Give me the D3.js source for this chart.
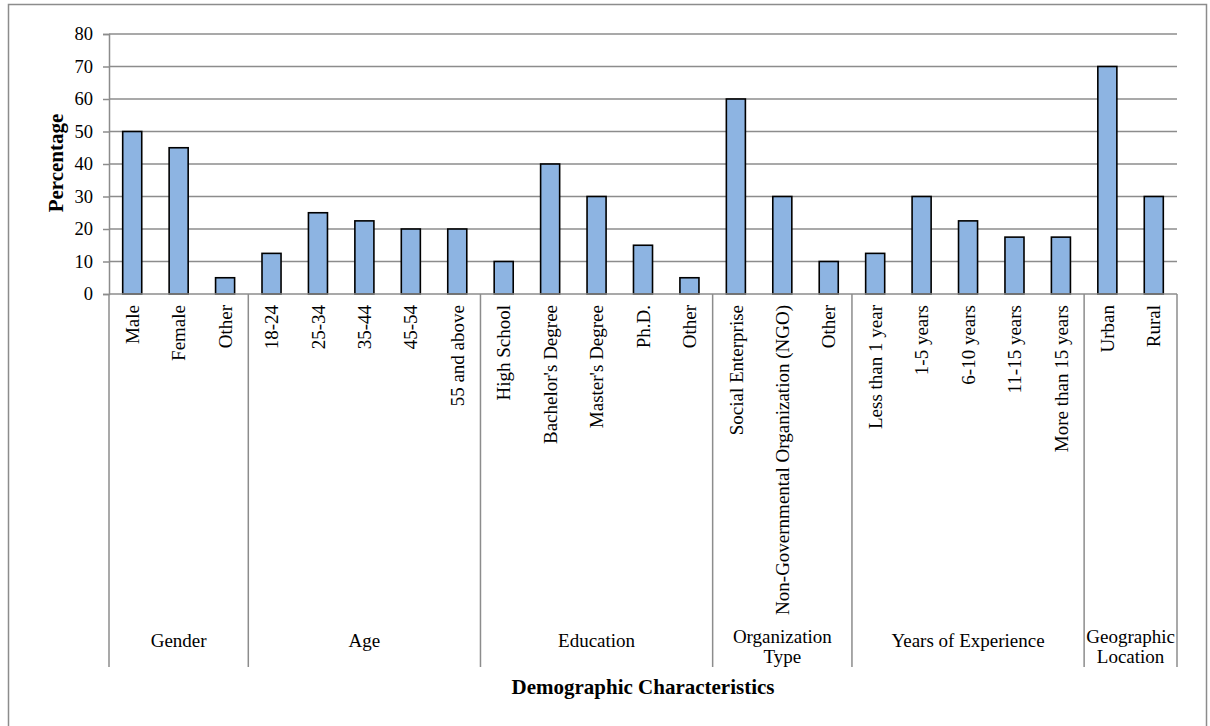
<!DOCTYPE html>
<html>
<head>
<meta charset="utf-8">
<script src="https://cdn.jsdelivr.net/npm/d3@7"></script>
<style>
  html, body { margin: 0; padding: 0; background: #fff; }
  svg { display: block; }
</style>
</head>
<body>
<svg id="chart" width="1210" height="726"></svg>
<script>
// Demographic groups and their categories
const groups = ["Gender", "Age", "Education", "Organization Type", "Years of Experience", "Geographic Location"];
const groupLines = [["Gender"], ["Age"], ["Education"], ["Organization", "Type"], ["Years of Experience"], ["Geographic", "Location"]];
const categories = [
  "Male", "Female", "Other",
  "18-24", "25-34", "35-44", "45-54", "55 and above",
  "High School", "Bachelor's Degree", "Master's Degree", "Ph.D.", "Other",
  "Social Enterprise", "Non-Governmental Organization (NGO)", "Other",
  "Less than 1 year", "1-5 years", "6-10 years", "11-15 years", "More than 15 years",
  "Urban", "Rural"
];
const groupOf = [0,0,0, 1,1,1,1,1, 2,2,2,2,2, 3,3,3, 4,4,4,4,4, 5,5];
const percentages = [
  50, 45, 5,
  12.5, 25, 22.5, 20, 20,
  10, 40, 30, 15, 5,
  60, 30, 10,
  12.5, 30, 22.5, 17.5, 17.5,
  70, 30
];
const yTicks = [0, 10, 20, 30, 40, 50, 60, 70, 80];

(function draw() {
  const svg = d3.select("#chart");
  const plotLeft = 109, plotRight = 1177, plotTop = 34, plotBottom = 294;
  const gridColor = "#8c8c8c";
  const serif = "'Liberation Serif', 'Times New Roman', serif";

  // outer frame
  svg.append("rect")
    .attr("x", 8.5).attr("y", 4.5).attr("width", 1198).attr("height", 740)
    .attr("fill", "none").attr("stroke", gridColor).attr("stroke-width", 1.5);

  const idx = categories.map((d, i) => i);
  const x = d3.scaleBand().domain(idx).range([plotLeft, plotRight]).paddingInner(0.59).paddingOuter(0.295);
  const xb = d3.scaleBand().domain(idx).range([plotLeft, plotRight]);
  const y = d3.scaleLinear().domain([0, 80]).range([plotBottom, plotTop]);

  // gridlines
  svg.append("g").selectAll("line").data(yTicks.filter(t => t > 0)).join("line")
    .attr("x1", plotLeft).attr("x2", plotRight)
    .attr("y1", d => y(d)).attr("y2", d => y(d))
    .attr("stroke", gridColor).attr("stroke-width", 1.5);

  // y axis
  const yAxis = svg.append("g").attr("transform", `translate(${plotLeft},0)`)
    .call(d3.axisLeft(y).tickValues(yTicks).tickSize(6).tickPadding(10));
  yAxis.select(".domain").attr("stroke", gridColor).attr("stroke-width", 1.5);
  yAxis.selectAll(".tick line").attr("stroke", gridColor).attr("stroke-width", 1.5);
  yAxis.selectAll(".tick text").attr("font-family", serif).attr("font-size", 18.5).attr("fill", "#000");

  // bars
  svg.append("g").selectAll("rect").data(percentages).join("rect")
    .attr("x", (d, i) => x(i))
    .attr("width", x.bandwidth())
    .attr("y", d => y(d))
    .attr("height", d => y(0) - y(d))
    .attr("fill", "#8db4e2")
    .attr("stroke", "#000").attr("stroke-width", 1.6);

  // baseline
  svg.append("line").attr("x1", plotLeft).attr("x2", plotRight).attr("y1", plotBottom).attr("y2", plotBottom)
    .attr("stroke", gridColor).attr("stroke-width", 1.5);

  // category labels
  svg.append("g").selectAll("text").data(categories).join("text")
    .attr("transform", (d, i) => `translate(${xb(i) + xb.bandwidth() / 2},${plotBottom + 11}) rotate(-90)`)
    .attr("text-anchor", "end").attr("dy", "0.35em")
    .attr("font-family", serif).attr("font-size", 19).attr("fill", "#000")
    .text(d => d);

  // group boundaries and labels
  const groupStart = groups.map((g, gi) => groupOf.indexOf(gi));
  const groupEnd = groups.map((g, gi) => groupOf.lastIndexOf(gi));
  const bounds = groupStart.map(s => xb(s)).concat([plotRight]);
  svg.append("g").selectAll("line").data(bounds).join("line")
    .attr("x1", d => d).attr("x2", d => d).attr("y1", plotBottom).attr("y2", 667)
    .attr("stroke", gridColor).attr("stroke-width", 1.5);

  const gl = svg.append("g").selectAll("text").data(groups).join("text")
    .attr("x", (d, gi) => (xb(groupStart[gi]) + xb(groupEnd[gi]) + xb.bandwidth()) / 2)
    .attr("y", (d, gi) => groupLines[gi].length > 1 ? 636 : 640)
    .attr("text-anchor", "middle")
    .attr("font-family", serif).attr("font-size", 19).attr("fill", "#000");
  gl.each(function(d, gi) {
    const t = d3.select(this);
    groupLines[gi].forEach((line, li) => {
      t.append("tspan").attr("x", t.attr("x")).attr("dy", li === 0 ? "0.35em" : "1.08em").text(line);
    });
  });

  // axis titles
  svg.append("text")
    .attr("transform", `translate(56,163) rotate(-90)`)
    .attr("text-anchor", "middle").attr("dy", "0.35em")
    .attr("font-family", serif).attr("font-size", 21).attr("font-weight", "bold")
    .text("Percentage");
  svg.append("text")
    .attr("x", (plotLeft + plotRight) / 2).attr("y", 687).attr("dy", "0.35em")
    .attr("text-anchor", "middle")
    .attr("font-family", serif).attr("font-size", 21).attr("font-weight", "bold")
    .text("Demographic Characteristics");
})();
</script>
</body>
</html>
